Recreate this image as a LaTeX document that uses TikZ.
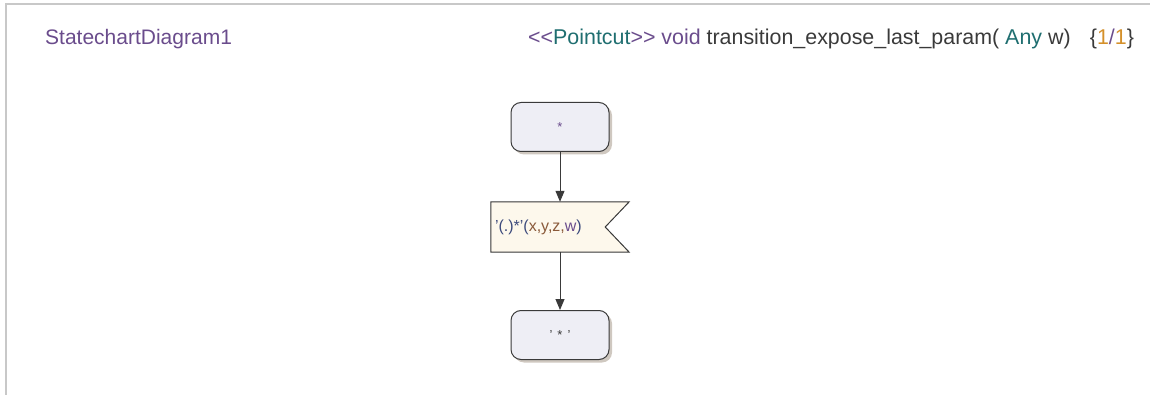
\documentclass[tikz,border=0pt]{standalone}
\usepackage{fontspec}
\setmainfont{Liberation Sans}
\usetikzlibrary{arrows.meta,shadows}

\definecolor{titlepurple}{HTML}{6A4C8C}
\definecolor{kwteal}{HTML}{1F6E70}
\definecolor{plaintext}{HTML}{3A3A3A}
\definecolor{numorange}{HTML}{D4902A}
\definecolor{slateblue}{HTML}{3C4A7C}
\definecolor{argbrown}{HTML}{8A5A3A}
\definecolor{statefill}{HTML}{EEEEF5}
\definecolor{flagfill}{HTML}{FDF8EC}
\definecolor{shadowgray}{HTML}{CFC8C0}
\definecolor{framegray}{HTML}{C8C8C8}
\definecolor{edgegray}{HTML}{3A3A3A}

\tikzset{
  statebox/.style={rectangle, rounded corners=10pt, draw=edgegray, line width=1pt,
    fill=statefill, minimum width=98pt, minimum height=49pt, inner sep=0pt,
    general shadow={shadow xshift=3pt, shadow yshift=-3pt, fill=shadowgray}},
  flagbox/.style={rectangle, minimum width=138pt, minimum height=50pt, inner sep=0pt},
  flagline/.style={draw=edgegray, line width=1pt, fill=flagfill},
  conn/.style={draw=edgegray, line width=1pt,
    -{Triangle[width=9pt,length=11pt]}},
  frameline/.style={draw=framegray, line width=1.5pt},
  hdr/.style={font=\fontsize{21}{25}\selectfont, inner sep=0pt, anchor=base west},
}

\begin{document}
\begin{tikzpicture}[x=1pt, y=-1pt]
  \useasboundingbox (0,0) rectangle (1150,395);

  % diagram frame
  \draw[frameline] (1150,4) -- (6,4) -- (6,395);

  % header
  \node[hdr, text=titlepurple] (title) at (45,45) {StatechartDiagram1};
  \node[hdr, font=\fontsize{21.4}{25}\selectfont] (signature) at (528,45) {%
    \textcolor{titlepurple}{<\kern0pt<}\textcolor{kwteal}{Pointcut}\textcolor{titlepurple}{>\kern0pt>}
    \textcolor{titlepurple}{void}
    \textcolor{plaintext}{transition\_expose\_last\_param(}
    \textcolor{kwteal}{Any}
    \textcolor{plaintext}{w)}\hspace{0.9em}%
    \textcolor{plaintext}{\{}\textcolor{numorange}{1}\textcolor{titlepurple}{/}\textcolor{numorange}{1}\textcolor{plaintext}{\}}};

  % states
  \node[statebox] (start) at (560,127)
    {\fontsize{13}{15}\selectfont\textcolor{titlepurple}{*}};
  \node[flagbox] (flag) at (560,227) {};
  \node[statebox] (finish) at (560,335)
    {\fontsize{13}{15}\selectfont\textcolor{plaintext}{'\hspace{5pt}*\hspace{5pt}'}};

  % flag-shaped transition box with a notch on the right
  \fill[shadowgray, xshift=3pt, yshift=-3pt]
    (flag.north west) -- (flag.north east) -- ([xshift=-24pt]flag.east)
    -- (flag.south east) -- (flag.south west) -- cycle;
  \path[flagline]
    (flag.north west) -- (flag.north east) -- ([xshift=-24pt]flag.east)
    -- (flag.south east) -- (flag.south west) -- cycle;
  \node[anchor=west, inner sep=0pt, font=\fontsize{16}{19}\selectfont] (label)
    at ([xshift=4pt]flag.west)
    {\textcolor{slateblue}{'(.)*'(}\textcolor{argbrown}{x,y,z,}\textcolor{titlepurple}{w}\textcolor{slateblue}{)}};

  % transitions
  \draw[conn] (start) -- (flag);
  \draw[conn] (flag) -- (finish);
\end{tikzpicture}
\end{document}
